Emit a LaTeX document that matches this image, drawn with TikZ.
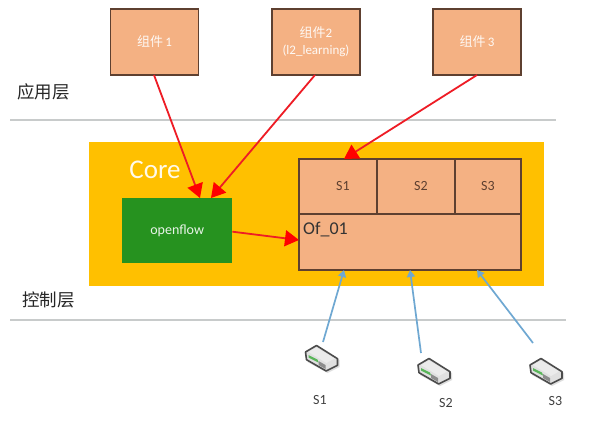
\documentclass[tikz,border=0pt]{standalone}
\usepackage{fontspec}
\setmainfont{Carlito}
\newfontfamily\cjk{Noto Sans CJK SC}
\usetikzlibrary{arrows.meta}
\definecolor{peach}{HTML}{F4B183}
\definecolor{boxline}{HTML}{5E4030}
\definecolor{coreyellow}{HTML}{FFC000}
\definecolor{ofgreen}{HTML}{26921F}
\definecolor{rulegray}{HTML}{C8CBCB}
\definecolor{bluearrow}{HTML}{6FA8D2}
\definecolor{redline}{HTML}{EE1C25}
\tikzset{
  x=1pt,y=-1pt,
  comp/.style={draw=boxline,line width=1.5pt,outer sep=0pt,fill=peach,minimum width=88pt,minimum height=66pt,inner sep=0pt,align=center,text=white!92!peach,font=\fontsize{13}{15}\selectfont,anchor=north west},
  cell/.style={draw=boxline,line width=1.5pt,outer sep=0pt,fill=peach,inner sep=0pt,text=boxline,font=\fontsize{14}{16}\selectfont,anchor=north west},
  redarrow/.style={draw=redline,line width=1.8pt,-{Triangle[length=14pt,width=16pt,fill=red,color=red]}},
  bluearr/.style={draw=bluearrow,line width=1.7pt,-{Triangle[length=7pt,width=8pt]}},
  layerrule/.style={draw=rulegray,line width=1.6pt},
  layerlabel/.style={font=\cjk\fontsize{17.5}{20}\selectfont,text=black!85,anchor=west,inner sep=0pt},
  swlabel/.style={font=\fontsize{14}{16}\selectfont,text=black!75,inner sep=0pt},
  swicon/.pic={
    \fill[black!25,opacity=.5] (-14,-5)--(-3,-11)--(18,2)--(18,9)--(6,15)--(-14,4)--cycle;
    \draw[fill=black!12,draw=black!70,line width=1.6pt,line join=round] (-16,-6)--(-5,-12.5)--(16,0.7)--(16,7.3)--(4.7,13)--(-15,1.7)--cycle;
    \fill[white!92!black] (-13,-6)--(-5,-10.5)--(13,0.5)--(5,5)--cycle;
    \fill[green!55!black!65] (-13,-3)--(-4,1.5)--(-3,4.5)--(-13,-0.5)--cycle;
    \fill[black!45] (-3,3)--(4,7)--(4,11)--(-3,7)--cycle;
  }
}
\begin{document}
\begin{tikzpicture}
\useasboundingbox (0,0) rectangle (597,423);
\fill[white] (0,0) rectangle (597,423);
% layer rules
\coordinate (r1a) at (10,120); \coordinate (r1b) at (556,120);
\coordinate (r2a) at (10,320); \coordinate (r2b) at (566,320);
\draw[layerrule] (r1a) -- (r1b);
\draw[layerrule] (r2a) -- (r2b);
\node[layerlabel] (app) at (17,92) {应用层};
\node[layerlabel] (ctl) at (22,300) {控制层};
% core
\node[fill=coreyellow,minimum width=455pt,minimum height=144pt,inner sep=0pt,anchor=north west] (core) at (89,142) {};
\node[text=white!92!coreyellow,font=\fontsize{27}{30}\selectfont,inner sep=0pt] (corelabel) at (155,170) {Core};
\node[fill=ofgreen,minimum width=110pt,minimum height=65pt,inner sep=0pt,anchor=north west,text=white!90!ofgreen,font=\fontsize{14}{16}\selectfont] (ofl) at (122,198) {openflow};
% components
\node[comp] (c1) at (110.5,9) {\cjk 组件\,\rmfamily 1};
\node[comp] (c2) at (272,9) {\cjk 组件\rmfamily 2\\[2pt]{\fontsize{13}{14}\selectfont (l2\_learning)}};
\node[comp] (c3) at (433,9) {\cjk 组件\,\rmfamily 3};
% table
\node[cell,minimum width=78pt,minimum height=55pt] (s1) at (299,159) {\hspace{10pt}S1};
\node[cell,minimum width=78pt,minimum height=55pt] (s2) at (377,159) {\hspace{10pt}S2};
\node[cell,minimum width=66pt,minimum height=55pt] (s3) at (455,159) {S3};
\node[cell,minimum width=222pt,minimum height=56pt] (of) at (299,214) {};
\node[anchor=west,inner sep=0pt,text=black!80,font=\fontsize{18}{20}\selectfont] (oflabel) at (303,230) {Of\_01};
% switches
\pic at (321.5,358) {swicon};
\pic at (434,371) {swicon};
\pic at (546,371) {swicon};
\coordinate (sw1) at (323,342);
\coordinate (sw2) at (421,353);
\coordinate (sw3) at (533,343);
\node[swlabel] (l1) at (320,400) {S1};
\node[swlabel] (l2) at (446,403) {S2};
\node[swlabel] (l3) at (555.5,401) {S3};
% red arrows
\draw[redarrow] ([xshift=-0.5pt]c1.south) -- ([xshift=78pt]ofl.north west);
\draw[redarrow] ([xshift=-1pt]c2.south) -- ([xshift=89pt]ofl.north west);
\draw[redarrow] (c3.south) -- ([xshift=45pt]s1.north west);
\draw[redarrow] ([yshift=-1pt]ofl.east) -- ([yshift=2pt]of.west);
% blue arrows
\draw[bluearr] (sw1) -- ([xshift=45pt]of.south west);
\draw[bluearr] (sw2) -- ([xshift=111pt]of.south west);
\draw[bluearr] (sw3) -- ([xshift=178pt]of.south west);
\end{tikzpicture}
\end{document}
